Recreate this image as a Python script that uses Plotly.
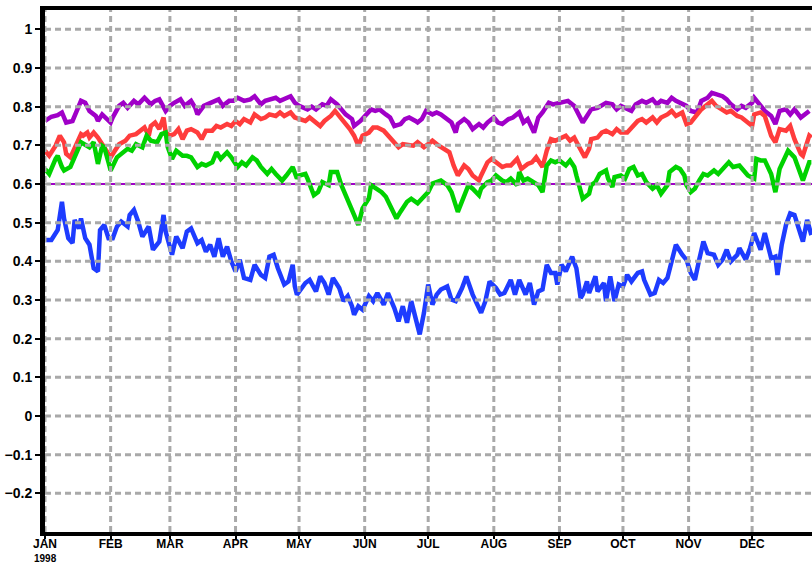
import pandas as pd
import plotly.graph_objects as go

# Daily index readings for 1998: (day of year offset from 1 Jan, value)
purple_series = [
    (0, 0.763), (3, 0.774), (6, 0.778), (8, 0.785), (10, 0.759), (13, 0.763), (15, 0.789), (17, 0.815),
    (19, 0.810), (21, 0.789), (24, 0.776), (25, 0.763), (27, 0.780), (29, 0.768), (31, 0.759), (32, 0.772),
    (35, 0.802), (37, 0.810), (39, 0.797), (42, 0.815), (44, 0.806), (47, 0.823), (50, 0.806), (52, 0.815),
    (54, 0.819), (57, 0.789), (59, 0.802), (61, 0.810), (64, 0.819), (66, 0.802), (69, 0.815), (71, 0.797),
    (72, 0.780), (75, 0.802), (77, 0.806), (80, 0.815), (82, 0.819), (84, 0.802), (87, 0.815), (89, 0.815),
    (91, 0.823), (94, 0.815), (97, 0.819), (99, 0.827), (102, 0.806), (104, 0.815), (106, 0.819), (109, 0.823),
    (111, 0.815), (113, 0.819), (116, 0.827), (118, 0.810),
    (120, 0.802), (124, 0.793), (126, 0.800), (128, 0.793), (131, 0.806), (133, 0.802), (135, 0.819), (138, 0.806),
    (140, 0.793), (142, 0.780), (145, 0.768), (146, 0.750), (149, 0.763), (151, 0.776), (154, 0.793), (156, 0.789),
    (158, 0.793), (161, 0.780), (163, 0.772), (165, 0.750), (168, 0.755), (170, 0.768), (172, 0.772), (175, 0.763),
    (176, 0.759), (178, 0.768), (180, 0.789), (183, 0.780), (185, 0.785), (187, 0.780), (190, 0.768), (192, 0.759),
    (194, 0.733), (195, 0.755), (198, 0.768), (200, 0.759), (202, 0.742), (205, 0.755), (207, 0.746), (209, 0.759),
    (212, 0.772), (214, 0.759), (216, 0.755), (219, 0.768), (221, 0.772), (224, 0.785), (226, 0.759), (228, 0.768),
    (231, 0.733), (233, 0.772), (235, 0.785), (238, 0.810), (240, 0.806),
    (244, 0.810), (247, 0.815), (250, 0.802), (252, 0.780), (254, 0.759), (256, 0.776), (258, 0.793), (261, 0.797),
    (263, 0.802), (265, 0.810), (268, 0.806), (270, 0.793), (272, 0.802), (275, 0.793), (277, 0.789), (279, 0.806),
    (282, 0.815), (284, 0.810), (287, 0.819), (289, 0.806), (291, 0.815), (294, 0.810), (296, 0.823), (298, 0.815),
    (301, 0.806), (303, 0.802), (305, 0.789), (308, 0.785), (310, 0.815), (313, 0.823), (315, 0.836), (317, 0.832),
    (320, 0.827), (322, 0.819), (324, 0.806), (327, 0.793), (329, 0.802), (331, 0.797), (334, 0.810), (335, 0.823),
    (338, 0.802), (340, 0.789), (343, 0.776), (345, 0.755), (347, 0.789), (350, 0.793), (352, 0.780), (354, 0.793),
    (357, 0.772), (359, 0.780), (361, 0.789),
]

red_series = [
    (0, 0.686), (2, 0.673), (5, 0.699), (7, 0.725), (9, 0.708), (10, 0.678), (12, 0.669), (14, 0.695),
    (17, 0.729), (18, 0.725), (20, 0.733), (21, 0.720), (23, 0.733), (25, 0.720), (28, 0.695), (30, 0.682),
    (31, 0.669), (33, 0.686), (35, 0.703), (38, 0.712), (40, 0.725), (43, 0.729), (45, 0.738), (47, 0.746),
    (49, 0.725), (50, 0.750), (52, 0.759), (54, 0.742), (56, 0.772), (57, 0.733), (59, 0.725), (61, 0.729),
    (63, 0.742), (65, 0.716), (67, 0.738), (69, 0.742), (72, 0.733), (74, 0.716), (76, 0.738), (79, 0.738),
    (81, 0.750), (83, 0.746), (86, 0.755), (88, 0.750), (90, 0.763), (92, 0.755), (94, 0.768), (97, 0.759),
    (99, 0.780), (102, 0.768), (104, 0.772), (106, 0.780), (109, 0.776), (111, 0.785), (113, 0.776), (116, 0.785),
    (118, 0.772),
    (120, 0.768), (123, 0.763), (125, 0.772), (128, 0.759), (130, 0.750), (132, 0.763), (135, 0.776), (137, 0.789),
    (139, 0.776), (142, 0.759), (144, 0.742), (146, 0.725), (148, 0.699), (150, 0.725), (153, 0.733), (155, 0.746),
    (157, 0.746), (160, 0.738), (162, 0.725), (165, 0.708), (167, 0.695), (169, 0.703), (172, 0.699), (174, 0.699),
    (176, 0.708), (179, 0.695), (181, 0.703), (183, 0.712), (186, 0.699), (188, 0.691), (191, 0.682), (193, 0.648),
    (195, 0.622), (198, 0.648), (200, 0.639), (202, 0.622), (205, 0.609), (206, 0.622), (209, 0.656), (211, 0.665),
    (213, 0.656), (216, 0.644), (218, 0.648), (220, 0.648), (223, 0.665), (225, 0.639), (228, 0.652), (230, 0.656),
    (232, 0.669), (235, 0.644), (237, 0.686), (239, 0.716),
    (241, 0.712), (243, 0.716), (246, 0.725), (248, 0.712), (250, 0.720), (252, 0.699), (254, 0.678), (255, 0.669),
    (257, 0.691), (258, 0.716), (261, 0.720), (263, 0.733), (265, 0.738), (268, 0.729), (270, 0.742), (272, 0.733),
    (275, 0.733), (277, 0.746), (280, 0.763), (282, 0.768), (284, 0.759), (287, 0.772), (289, 0.759), (291, 0.772),
    (294, 0.780), (296, 0.789), (298, 0.776), (301, 0.785), (303, 0.755), (305, 0.759), (308, 0.780), (310, 0.793),
    (313, 0.806), (315, 0.815), (317, 0.802), (320, 0.793), (322, 0.785), (324, 0.789), (327, 0.776), (329, 0.772),
    (331, 0.763), (334, 0.750), (335, 0.780), (338, 0.785), (340, 0.776), (343, 0.725), (345, 0.708), (347, 0.742),
    (350, 0.738), (352, 0.750), (354, 0.716), (357, 0.678), (358, 0.673), (361, 0.725), (362, 0.720),
]

green_series = [
    (0, 0.639), (2, 0.626), (5, 0.665), (6, 0.673), (8, 0.644), (9, 0.635), (12, 0.644), (14, 0.673),
    (16, 0.695), (17, 0.708), (19, 0.703), (21, 0.695), (23, 0.708), (24, 0.673), (25, 0.652), (27, 0.699),
    (28, 0.695), (30, 0.656), (31, 0.635), (34, 0.669), (36, 0.678), (39, 0.691), (41, 0.686), (43, 0.703),
    (46, 0.695), (48, 0.725), (50, 0.712), (53, 0.708), (55, 0.729), (57, 0.733), (58, 0.695), (60, 0.665),
    (62, 0.686), (65, 0.673), (67, 0.673), (69, 0.669), (72, 0.644), (74, 0.652), (76, 0.648), (79, 0.656),
    (81, 0.682), (83, 0.665), (86, 0.682), (88, 0.669), (91, 0.644), (93, 0.656), (95, 0.648), (98, 0.669),
    (100, 0.661), (102, 0.644), (105, 0.626), (107, 0.639), (109, 0.626), (112, 0.609), (114, 0.622), (117, 0.644),
    (119, 0.614),
    (120, 0.622), (123, 0.626), (124, 0.614), (127, 0.571), (129, 0.579), (131, 0.605), (134, 0.597), (135, 0.631),
    (138, 0.631), (140, 0.597), (143, 0.559), (145, 0.537), (146, 0.520), (148, 0.494), (150, 0.537), (153, 0.563),
    (154, 0.597), (157, 0.588), (159, 0.579), (161, 0.567), (163, 0.546), (166, 0.511), (168, 0.529), (171, 0.554),
    (173, 0.562), (176, 0.550), (178, 0.562), (181, 0.579), (183, 0.601), (185, 0.605), (187, 0.609), (190, 0.597),
    (192, 0.579), (195, 0.528), (198, 0.571), (200, 0.597), (202, 0.588), (205, 0.571), (206, 0.588), (209, 0.605),
    (211, 0.609), (213, 0.622), (216, 0.609), (218, 0.605), (220, 0.614), (223, 0.597), (224, 0.631), (226, 0.609),
    (228, 0.614), (231, 0.605), (233, 0.597), (235, 0.579), (237, 0.648), (239, 0.661),
    (241, 0.656), (243, 0.661), (246, 0.648), (248, 0.661), (250, 0.644), (251, 0.622), (253, 0.579), (254, 0.562),
    (257, 0.575), (258, 0.597), (260, 0.605), (262, 0.626), (265, 0.635), (266, 0.614), (268, 0.592), (269, 0.618),
    (272, 0.622), (274, 0.614), (276, 0.639), (278, 0.644), (280, 0.622), (282, 0.626), (284, 0.605), (287, 0.588),
    (289, 0.597), (291, 0.575), (294, 0.597), (295, 0.631), (298, 0.644), (300, 0.639), (302, 0.622), (303, 0.597),
    (305, 0.579), (307, 0.588), (309, 0.609), (311, 0.626), (313, 0.622), (316, 0.635), (318, 0.626), (320, 0.639),
    (323, 0.656), (325, 0.644), (328, 0.648), (330, 0.635), (332, 0.622), (335, 0.614), (336, 0.665), (338, 0.661),
    (340, 0.661), (343, 0.626), (345, 0.579), (347, 0.639), (350, 0.678), (351, 0.686), (354, 0.669), (356, 0.639),
    (358, 0.609), (361, 0.656), (362, 0.656),
]

blue_series = [
    (0, 0.455), (3, 0.455), (6, 0.481), (7, 0.520), (8, 0.554), (9, 0.511), (11, 0.460), (13, 0.447),
    (14, 0.507), (16, 0.485), (17, 0.511), (19, 0.460), (21, 0.443), (23, 0.382), (25, 0.374), (26, 0.481),
    (28, 0.494), (30, 0.460), (32, 0.460), (34, 0.490), (36, 0.503), (39, 0.490), (40, 0.520), (42, 0.533),
    (44, 0.503), (46, 0.464), (49, 0.490), (51, 0.430), (54, 0.451), (56, 0.520), (57, 0.477), (60, 0.417),
    (62, 0.464), (65, 0.434), (67, 0.477), (69, 0.485), (72, 0.447), (74, 0.455), (76, 0.425), (78, 0.443),
    (80, 0.412), (82, 0.460), (84, 0.412), (86, 0.438), (88, 0.400), (90, 0.374), (92, 0.404), (94, 0.357),
    (97, 0.352), (99, 0.391), (102, 0.365), (104, 0.357), (106, 0.412), (108, 0.417), (110, 0.382), (113, 0.340),
    (115, 0.348), (117, 0.391), (118, 0.335), (119, 0.314),
    (120, 0.322), (123, 0.344), (125, 0.352), (128, 0.322), (130, 0.361), (132, 0.344), (134, 0.314), (136, 0.357),
    (139, 0.331), (141, 0.297), (143, 0.310), (145, 0.284), (146, 0.262), (148, 0.284), (150, 0.275), (153, 0.310),
    (155, 0.297), (157, 0.318), (160, 0.288), (162, 0.318), (165, 0.279), (167, 0.245), (169, 0.284), (171, 0.241),
    (173, 0.297), (175, 0.254), (177, 0.211), (179, 0.267), (181, 0.340), (183, 0.288), (185, 0.314), (187, 0.327),
    (190, 0.335), (192, 0.301), (194, 0.297), (197, 0.331), (199, 0.361), (202, 0.314), (204, 0.288), (206, 0.267),
    (208, 0.297), (210, 0.348), (213, 0.331), (215, 0.314), (217, 0.318), (220, 0.352), (222, 0.314), (224, 0.352),
    (227, 0.314), (229, 0.344), (231, 0.288), (233, 0.322), (235, 0.327), (237, 0.391), (239, 0.370),
    (241, 0.370), (242, 0.340), (244, 0.391), (246, 0.374), (249, 0.412), (251, 0.382), (253, 0.305), (254, 0.314),
    (256, 0.348), (257, 0.318), (260, 0.361), (261, 0.322), (264, 0.344), (265, 0.297), (267, 0.361), (269, 0.297),
    (271, 0.340), (273, 0.335), (275, 0.365), (277, 0.348), (280, 0.370), (282, 0.374), (283, 0.352), (286, 0.314),
    (288, 0.318), (290, 0.352), (292, 0.344), (294, 0.357), (296, 0.400), (298, 0.443), (301, 0.417), (303, 0.404),
    (305, 0.370), (307, 0.352), (309, 0.404), (311, 0.451), (313, 0.421), (316, 0.417), (318, 0.391), (320, 0.404),
    (322, 0.430), (324, 0.400), (327, 0.417), (328, 0.434), (331, 0.404), (333, 0.434), (335, 0.473), (338, 0.430),
    (340, 0.473), (343, 0.408), (345, 0.412), (346, 0.365), (348, 0.443), (350, 0.494), (352, 0.524), (354, 0.520),
    (357, 0.468), (358, 0.451), (360, 0.507), (362, 0.468),
]

reference_level = 0.6

month_starts = ["1998-01-01", "1998-02-01", "1998-03-01", "1998-04-01", "1998-05-01", "1998-06-01",
                "1998-07-01", "1998-08-01", "1998-09-01", "1998-10-01", "1998-11-01", "1998-12-01"]
month_labels = ["JAN", "FEB", "MAR", "APR", "MAY", "JUN", "JUL", "AUG", "SEP", "OCT", "NOV", "DEC"]
year_label = "1998"

y_ticks = [1.0, 0.9, 0.8, 0.7, 0.6, 0.5, 0.4, 0.3, 0.2, 0.1, 0.0, -0.1, -0.2]
y_labels = ["1", "0.9", "0.8", "0.7", "0.6", "0.5", "0.4", "0.3", "0.2", "0.1", "0", "\u22120.1", "\u22120.2"]

x_start = "1998-01-01"
x_end = "1998-12-29 07:00"
origin = pd.Timestamp("1998-01-01")


def to_xy(pairs):
    days, vals = zip(*pairs)
    return origin + pd.to_timedelta(list(days), unit="D"), list(vals)


fig = go.Figure()

# thin reference line underneath the series
fig.add_trace(go.Scatter(x=[x_start, x_end], y=[reference_level, reference_level], mode="lines",
                         line=dict(color="#a000c8", width=2), hoverinfo="skip"))

series = [
    (purple_series, "#a000c8"),
    (red_series, "#ff3c3c"),
    (green_series, "#00d200"),
    (blue_series, "#1e3cff"),
]
for pairs, col in series:
    xs, ys = to_xy(pairs)
    fig.add_trace(go.Scatter(x=xs, y=ys, mode="lines", line=dict(color=col, width=4.5)))

# dotted grid drawn on top of the curves
grid_style = dict(color="#a9a9a9", width=3, dash="6px,4px")
shapes = []
for m in month_starts:
    shapes.append(dict(type="line", xref="x", yref="paper", x0=m, x1=m, y0=0, y1=1,
                       line=grid_style, layer="above"))
for v in y_ticks:
    shapes.append(dict(type="line", xref="paper", yref="y", x0=0, x1=1, y0=v, y1=v,
                       line=grid_style, layer="above"))

tick_font = dict(family="Liberation Sans", size=14, color="black", weight="bold")
xtick_font = dict(family="Liberation Sans Narrow, Liberation Sans", size=12, color="black", weight="bold")

fig.update_layout(
    width=812, height=563,
    margin=dict(l=45, r=0, t=10, b=31, autoexpand=False),
    paper_bgcolor="white", plot_bgcolor="white",
    showlegend=False,
    shapes=shapes,
    annotations=[dict(text=year_label, x=x_start, xref="x", y=0, yref="paper",
                      xanchor="center", yanchor="top", yshift=-20, showarrow=False,
                      borderpad=0,
                      font=dict(family="Liberation Sans Narrow, Liberation Sans", size=10,
                                color="black", weight="bold"))],
    xaxis=dict(
        type="date", range=[x_start, x_end], automargin=False,
        tickmode="array", tickvals=month_starts, ticktext=month_labels,
        showgrid=False, zeroline=False,
        showline=True, linecolor="black", linewidth=4, mirror=True,
        ticks="outside", ticklen=3, tickwidth=2, tickcolor="black",
        ticklabelstandoff=-5,
        tickfont=xtick_font,
    ),
    yaxis=dict(
        range=[-0.3, 1.05], automargin=False,
        tickmode="array", tickvals=y_ticks, ticktext=y_labels,
        showgrid=False, zeroline=False,
        showline=True, linecolor="black", linewidth=5,
        ticks="outside", ticklen=5, tickwidth=2, tickcolor="black",
        tickfont=tick_font,
    ),
)

fig.write_html("out.html")
